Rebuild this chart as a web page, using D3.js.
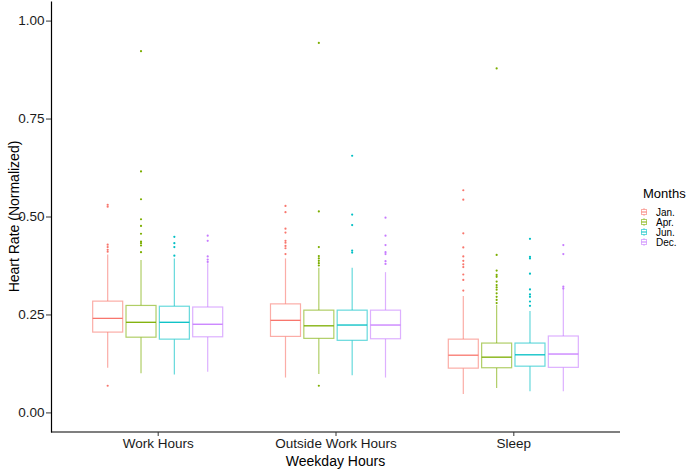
<!DOCTYPE html>
<html><head>
<meta charset="utf-8">
<script src="https://d3js.org/d3.v7.min.js"></script>
<style>
  body { margin: 0; background: #fff; }
  svg text { font-family: "Liberation Sans", Arial, sans-serif; }
</style>
</head>
<body>
<svg id="plot" width="688" height="469"></svg>
<script>
  // ------ data ------
  const hours = ["Work Hours", "Outside Work Hours", "Sleep"];
  const months = ["Jan.", "Apr.", "Jun.", "Dec."];
  const monthColors = ["#F8766D", "#7CAE00", "#00BFC4", "#C77CFF"];
  const yTicks = [0, 0.25, 0.5, 0.75, 1];

  // one row per hour group, one column per month
  const lowerWhisker = [
    [0.114, 0.100, 0.097, 0.104],
    [0.089, 0.098, 0.095, 0.089],
    [0.047, 0.062, 0.054, 0.054]
  ];
  const q1 = [
    [0.205, 0.192, 0.187, 0.193],
    [0.194, 0.189, 0.184, 0.188],
    [0.113, 0.114, 0.118, 0.115]
  ];
  const medians = [
    [0.240, 0.230, 0.230, 0.225],
    [0.235, 0.221, 0.223, 0.223],
    [0.146, 0.141, 0.147, 0.149]
  ];
  const q3 = [
    [0.284, 0.273, 0.271, 0.269],
    [0.277, 0.261, 0.261, 0.261],
    [0.187, 0.177, 0.177, 0.195]
  ];
  const upperWhisker = [
    [0.403, 0.389, 0.393, 0.381],
    [0.393, 0.369, 0.369, 0.358],
    [0.297, 0.274, 0.259, 0.319]
  ];
  const outliers = [
    [
      [0.530, 0.525, 0.428, 0.422, 0.415, 0.410, 0.068],
      [0.922, 0.615, 0.544, 0.493, 0.476, 0.456, 0.436, 0.432, 0.426, 0.409],
      [0.448, 0.432, 0.422, 0.400],
      [0.451, 0.438, 0.398, 0.390, 0.384]
    ],
    [
      [0.527, 0.511, 0.469, 0.459, 0.438, 0.433, 0.425, 0.419, 0.404],
      [0.943, 0.513, 0.422, 0.399, 0.393, 0.387, 0.381, 0.375, 0.068],
      [0.655, 0.505, 0.478, 0.413, 0.408],
      [0.497, 0.451, 0.427, 0.409, 0.404, 0.386, 0.379]
    ],
    [
      [0.567, 0.543, 0.457, 0.421, 0.398, 0.387, 0.378, 0.371, 0.352, 0.338, 0.311],
      [0.878, 0.402, 0.362, 0.351, 0.346, 0.334, 0.325, 0.319, 0.313, 0.304, 0.295, 0.287, 0.279],
      [0.443, 0.397, 0.393, 0.354, 0.314, 0.301, 0.295, 0.283, 0.272],
      [0.427, 0.404, 0.321, 0.316]
    ]
  ];

  // ------ layout ------
  const svg = d3.select("svg#plot");
  const panel = {left: 51, right: 620, top: 1, bottom: 432};

  const x = d3.scalePoint().domain(hours).range([panel.left, panel.right]).padding(0.6);
  const dodge = 0.75 * x.step();
  const xMonth = d3.scaleBand().domain(months)
                   .range([-dodge / 2, dodge / 2])
                   .paddingInner(0.1).paddingOuter(0.05);
  const y = d3.scaleLinear().domain([-0.05, 1.05]).range([panel.bottom, panel.top]);
  const color = d3.scaleOrdinal().domain(months).range(monthColors);

  // build rows for the boxes
  const boxes = [];
  hours.forEach((h, i) => {
    months.forEach((m, j) => {
      boxes.push({hour: h, month: m, lo: lowerWhisker[i][j], q1: q1[i][j], med: medians[i][j],
                  q3: q3[i][j], hi: upperWhisker[i][j], out: outliers[i][j]});
    });
  });

  const chart = svg.append("g");
  const bw = xMonth.bandwidth();

  const g = chart.selectAll("g.box").data(boxes).join("g")
      .attr("class", "box")
      .attr("transform", d => "translate(" + (x(d.hour) + xMonth(d.month) + bw / 2) + ",0)");

  // whiskers
  g.append("line").attr("x1", 0).attr("x2", 0)
      .attr("y1", d => y(d.q3)).attr("y2", d => y(d.hi))
      .attr("stroke", d => color(d.month)).attr("stroke-opacity", 0.6).attr("stroke-width", 1.2);
  g.append("line").attr("x1", 0).attr("x2", 0)
      .attr("y1", d => y(d.q1)).attr("y2", d => y(d.lo))
      .attr("stroke", d => color(d.month)).attr("stroke-opacity", 0.6).attr("stroke-width", 1.2);

  // box
  g.append("rect")
      .attr("x", -bw / 2).attr("width", bw)
      .attr("y", d => y(d.q3)).attr("height", d => y(d.q1) - y(d.q3))
      .attr("fill", "white")
      .attr("stroke", d => color(d.month)).attr("stroke-opacity", 0.6).attr("stroke-width", 1.2);

  // median
  g.append("line").attr("x1", -bw / 2).attr("x2", bw / 2)
      .attr("y1", d => y(d.med)).attr("y2", d => y(d.med))
      .attr("stroke", d => color(d.month)).attr("stroke-width", 1.3);

  // outliers
  g.selectAll("circle").data(d => d.out.map(v => ({v: v, month: d.month}))).join("circle")
      .attr("cx", 0).attr("cy", d => y(d.v)).attr("r", 1.1)
      .attr("fill", d => color(d.month));

  // ------ axes ------
  const yAxis = d3.axisLeft(y).tickValues(yTicks).tickFormat(d3.format(".2f"))
                  .tickSize(5).tickSizeOuter(0).tickPadding(1.5);
  const yg = svg.append("g").attr("transform", "translate(" + panel.left + ",0)").call(yAxis);

  const xAxis = d3.axisBottom(x).tickSize(4).tickSizeOuter(0).tickPadding(2.5);
  const xg = svg.append("g").attr("transform", "translate(0," + panel.bottom + ")").call(xAxis);

  [yg, xg].forEach(a => {
    a.select(".domain").attr("stroke", "#000").attr("stroke-width", 1.2);
    a.selectAll(".tick line").attr("stroke", "#333").attr("stroke-width", 1);
    a.selectAll(".tick text").attr("fill", "#1a1a1a").style("font-size", "13.5px");
  });
  // make the x domain reach the y axis line
  xg.select(".domain").attr("d", "M" + panel.left + ",0H" + panel.right);

  svg.append("text")
      .attr("transform", "translate(14," + ((panel.top + panel.bottom) / 2) + ") rotate(-90)")
      .attr("text-anchor", "middle").attr("dy", "0.35em")
      .style("font-size", "14px").attr("fill", "#000")
      .text("Heart Rate (Normalized)");

  svg.append("text")
      .attr("x", (panel.left + panel.right) / 2).attr("y", 466)
      .attr("text-anchor", "middle")
      .style("font-size", "14px").attr("fill", "#000")
      .text("Weekday Hours");

  // ------ legend ------
  const legend = svg.append("g").attr("transform", "translate(641,0)");
  legend.append("text").attr("x", 2).attr("y", 198)
      .style("font-size", "13px").attr("fill", "#000").text("Months");

  const items = legend.selectAll("g.item").data(months).join("g")
      .attr("class", "item")
      .attr("transform", (d, i) => "translate(0," + (212 + i * 10) + ")");
  items.append("line").attr("x1", 3).attr("x2", 3).attr("y1", -4).attr("y2", 4)
      .attr("stroke", d => color(d)).attr("stroke-opacity", 0.6);
  items.append("rect").attr("x", 0.5).attr("y", -2.5).attr("width", 5).attr("height", 5)
      .attr("fill", "white").attr("stroke", d => color(d)).attr("stroke-opacity", 0.6);
  items.append("line").attr("x1", 0.5).attr("x2", 5.5).attr("y1", 0).attr("y2", 0)
      .attr("stroke", d => color(d));
  items.append("text").attr("x", 15).attr("dy", "0.35em")
      .style("font-size", "10px").attr("fill", "#000").text(d => d);
</script>
</body>
</html>
